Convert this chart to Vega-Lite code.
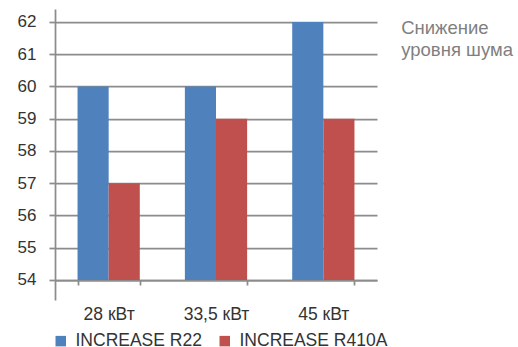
{
  "$schema": "https://vega.github.io/schema/vega-lite/v6.json",
  "width": 322,
  "height": 291,
  "autosize": {"type": "none"},
  "padding": {"left": 55, "top": 9, "right": 141, "bottom": 47},
  "background": "white",
  "config": {
    "view": {"stroke": null},
    "font": "Liberation Sans"
  },
  "title": {
    "text": ["Снижение", "уровня шума"],
    "orient": "right",
    "anchor": "start",
    "frame": "group",
    "angle": 0,
    "align": "left",
    "baseline": "top",
    "offset": -98.5,
    "dy": 10,
    "lineHeight": 22,
    "fontSize": 18.5,
    "fontWeight": "normal",
    "color": "#7f7f7f",
    "font": "Liberation Sans"
  },
  "data": {
    "values": [
      {"power": "28 кВт", "series": "INCREASE R22", "value": 60},
      {"power": "28 кВт", "series": "INCREASE R410A", "value": 57},
      {"power": "33,5 кВт", "series": "INCREASE R22", "value": 60},
      {"power": "33,5 кВт", "series": "INCREASE R410A", "value": 59},
      {"power": "45 кВт", "series": "INCREASE R22", "value": 62},
      {"power": "45 кВт", "series": "INCREASE R410A", "value": 59}
    ]
  },
  "mark": {"type": "bar"},
  "encoding": {
    "x": {
      "field": "power",
      "type": "nominal",
      "sort": ["28 кВт", "33,5 кВт", "45 кВт"],
      "scale": {"paddingInner": 0.42, "paddingOuter": 0.21},
      "axis": {
        "title": null,
        "offset": -20,
        "tickBand": "extent",
        "labelAngle": 0,
        "labelFontSize": 17.5,
        "labelColor": "#333333",
        "labelPadding": 20,
        "tickSize": 5,
        "tickColor": "#8c8c8c",
        "tickWidth": 1.75,
        "domainColor": "#8c8c8c",
        "domainWidth": 1.75,
        "grid": false
      }
    },
    "xOffset": {
      "field": "series",
      "type": "nominal",
      "sort": ["INCREASE R22", "INCREASE R410A"],
      "scale": {"paddingInner": 0, "paddingOuter": 0}
    },
    "y": {
      "field": "value",
      "type": "quantitative",
      "scale": {"domain": [53.38, 62.4], "nice": false, "zero": false},
      "axis": {
        "title": null,
        "values": [54, 55, 56, 57, 58, 59, 60, 61, 62],
        "labelFontSize": 17,
        "labelColor": "#333333",
        "labelPadding": 13,
        "tickSize": 6,
        "tickColor": "#8c8c8c",
        "tickWidth": 1.75,
        "domainColor": "#8c8c8c",
        "domainWidth": 1.75,
        "grid": true,
        "gridColor": "#8c8c8c",
        "gridWidth": 1.75
      }
    },
    "y2": {"datum": 54},
    "color": {
      "field": "series",
      "type": "nominal",
      "sort": ["INCREASE R22", "INCREASE R410A"],
      "scale": {"range": ["#4f81bd", "#c0504d"]},
      "legend": {
        "title": null,
        "orient": "none",
        "direction": "horizontal",
        "legendX": -3,
        "legendY": 323,
        "padding": 0,
        "symbolType": "square",
        "symbolSize": 110,
        "symbolStrokeWidth": 0,
        "labelFontSize": 17.5,
        "labelColor": "#333333",
        "labelOffset": 6,
        "columnPadding": 14
      }
    }
  }
}
